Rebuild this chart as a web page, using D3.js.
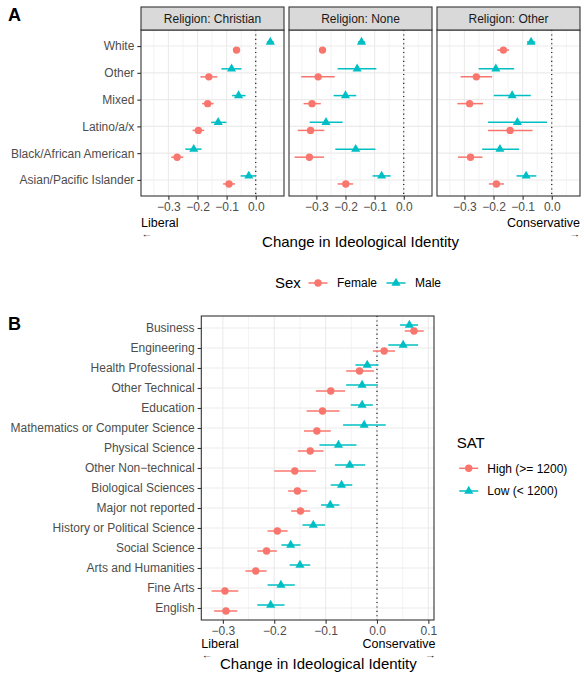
<!DOCTYPE html>
<html>
<head>
<meta charset="utf-8">
<script src="https://cdn.jsdelivr.net/npm/d3@7.9.0/dist/d3.min.js"></script>
<style>
  body { margin: 0; background: #fff; }
  svg { font-family: "Liberation Sans", Arial, Helvetica, sans-serif; }
</style>
</head>
<body>
<div id="chart"></div>
<script>
// ---- data: [estimate, lower, upper] ----
const races = ["White", "Other", "Mixed", "Latino/a/x", "Black/African American", "Asian/Pacific Islander"];
const religions = ["Religion: Christian", "Religion: None", "Religion: Other"];
const sexes = ["Female", "Male"];

const christianFemale = [[-0.066,-0.076,-0.056],[-0.161,-0.190,-0.132],[-0.165,-0.184,-0.145],[-0.197,-0.217,-0.177],[-0.270,-0.290,-0.249],[-0.092,-0.112,-0.071]];
const christianMale   = [[0.050,0.038,0.062],[-0.083,-0.118,-0.049],[-0.059,-0.081,-0.035],[-0.129,-0.153,-0.101],[-0.213,-0.242,-0.186],[-0.024,-0.052,0.001]];
const noneFemale      = [[-0.279,-0.291,-0.267],[-0.294,-0.352,-0.237],[-0.315,-0.344,-0.285],[-0.320,-0.364,-0.273],[-0.324,-0.375,-0.274],[-0.199,-0.227,-0.174]];
const noneMale        = [[-0.145,-0.157,-0.133],[-0.160,-0.227,-0.094],[-0.200,-0.241,-0.163],[-0.267,-0.323,-0.210],[-0.165,-0.235,-0.097],[-0.076,-0.107,-0.045]];
const otherFemale     = [[-0.166,-0.187,-0.147],[-0.259,-0.313,-0.205],[-0.282,-0.324,-0.236],[-0.143,-0.219,-0.066],[-0.279,-0.322,-0.238],[-0.190,-0.216,-0.164]];
const otherMale       = [[-0.071,-0.085,-0.057],[-0.192,-0.251,-0.129],[-0.136,-0.199,-0.072],[-0.118,-0.219,-0.016],[-0.178,-0.239,-0.112],[-0.088,-0.121,-0.053]];

const majors = ["Business", "Engineering", "Health Professional", "Other Technical", "Education",
  "Mathematics or Computer Science", "Physical Science", "Other Non\u2212technical", "Biological Sciences",
  "Major not reported", "History or Political Science", "Social Science", "Arts and Humanities", "Fine Arts", "English"];
const satGroups = ["High (>= 1200)", "Low (< 1200)"];
const satHigh = [[0.072,0.054,0.091],[0.014,-0.008,0.035],[-0.034,-0.060,-0.006],[-0.090,-0.119,-0.062],[-0.106,-0.137,-0.073],
  [-0.117,-0.142,-0.090],[-0.130,-0.154,-0.104],[-0.160,-0.200,-0.119],[-0.155,-0.173,-0.136],[-0.149,-0.167,-0.130],
  [-0.194,-0.213,-0.174],[-0.215,-0.233,-0.195],[-0.236,-0.256,-0.215],[-0.296,-0.322,-0.270],[-0.294,-0.317,-0.272]];
const satLow = [[0.063,0.045,0.080],[0.051,0.022,0.080],[-0.019,-0.042,0.003],[-0.029,-0.060,0.002],[-0.029,-0.051,-0.008],
  [-0.025,-0.066,0.017],[-0.075,-0.112,-0.040],[-0.053,-0.082,-0.023],[-0.069,-0.090,-0.048],[-0.091,-0.109,-0.073],
  [-0.124,-0.145,-0.101],[-0.168,-0.186,-0.149],[-0.150,-0.170,-0.130],[-0.187,-0.213,-0.160],[-0.207,-0.233,-0.180]];

const ticksA = [-0.3, -0.2, -0.1, 0.0];
const minorA = [-0.35, -0.25, -0.15, -0.05, 0.05];
const ticksB = [-0.3, -0.2, -0.1, 0.0, 0.1];
const minorB = [-0.25, -0.15, -0.05, 0.05];

const colors = ["#F8766D", "#00BFC4"];
const fmt = d => d3.format(".1f")(d).replace("-", "\u2212");

const W = 584, H = 680;
const svg = d3.select("#chart").append("svg")
  .attr("width", W)
  .attr("height", H);

// draw one panel with two dodged series
function drawPanel(x, y, cats, seriesList, ticks, minor, top, bottom, withYAxis) {
  const g = svg.append("g");
  const [x0, x1] = x.range();
  const step = y.step();

  g.selectAll(".minor").data(minor.filter(d => x(d) > x0 && x(d) < x1)).join("line")
    .attr("x1", d => x(d)).attr("x2", d => x(d))
    .attr("y1", top).attr("y2", bottom)
    .attr("stroke", "#ebebeb").attr("stroke-width", 0.6);
  g.selectAll(".major").data(ticks).join("line")
    .attr("x1", d => x(d)).attr("x2", d => x(d))
    .attr("y1", top).attr("y2", bottom)
    .attr("stroke", "#ebebeb").attr("stroke-width", 1.1);
  g.selectAll(".hgrid").data(cats).join("line")
    .attr("x1", x0).attr("x2", x1)
    .attr("y1", d => y(d)).attr("y2", d => y(d))
    .attr("stroke", "#ebebeb").attr("stroke-width", 1.1);

  // zero reference
  g.append("line")
    .attr("x1", x(0)).attr("x2", x(0))
    .attr("y1", top).attr("y2", bottom)
    .attr("stroke", "#000").attr("stroke-width", 1.1)
    .attr("stroke-dasharray", "1.1,3.3");

  seriesList.forEach((s, si) => {
    const off = si === 0 ? 0.15 * step : -0.15 * step;
    const rows = s.map((v, i) => ({ cat: cats[i], est: v[0], lo: v[1], hi: v[2] }));
    g.selectAll(null).data(rows).join("line")
      .attr("x1", d => x(d.lo)).attr("x2", d => x(d.hi))
      .attr("y1", d => y(d.cat) + off).attr("y2", d => y(d.cat) + off)
      .attr("stroke", colors[si]).attr("stroke-width", 1.5);
    if (si === 0) {
      g.selectAll(null).data(rows).join("circle")
        .attr("cx", d => x(d.est)).attr("cy", d => y(d.cat) + off)
        .attr("r", 3.7).attr("fill", colors[si]);
    } else {
      g.selectAll(null).data(rows).join("path")
        .attr("d", d3.symbol(d3.symbolTriangle, 36))
        .attr("transform", d => `translate(${x(d.est)},${y(d.cat) + off})`)
        .attr("fill", colors[si]);
    }
  });

  g.append("rect")
    .attr("x", x0).attr("y", top)
    .attr("width", x1 - x0).attr("height", bottom - top)
    .attr("fill", "none").attr("stroke", "#333").attr("stroke-width", 1.1);

  // x axis
  const xa = g.append("g").attr("transform", `translate(0,${bottom})`)
    .call(d3.axisBottom(x).tickValues(ticks).tickSize(3.7).tickPadding(3).tickFormat(fmt));
  xa.select(".domain").remove();
  xa.selectAll("line").attr("stroke", "#333").attr("stroke-width", 1.1);
  xa.selectAll("text").attr("fill", "#4d4d4d").style("font-size", "12px")
    .style("font-family", "Liberation Sans, Arial, sans-serif");

  if (withYAxis) {
    const ya = g.append("g").attr("transform", `translate(${x0},0)`)
      .call(d3.axisLeft(y).tickSize(3.7).tickPadding(3));
    ya.select(".domain").remove();
    ya.selectAll("line").attr("stroke", "#333").attr("stroke-width", 1.1);
    ya.selectAll("text").attr("fill", "#4d4d4d").style("font-size", "12px")
      .style("font-family", "Liberation Sans, Arial, sans-serif");
  }
}

function directionLabels(left, right, yText, yArrow, yTitle) {
  const t = svg.append("g").attr("fill", "#000").style("font-size", "12.5px");
  t.append("text").attr("x", left).attr("y", yText).attr("dy", "0.35em").text("Liberal");
  t.append("text").attr("x", left).attr("y", yArrow).attr("dy", "0.35em")
    .style("font-size", "8px").attr("textLength", 11).attr("lengthAdjust", "spacingAndGlyphs").text("\u2190");
  t.append("text").attr("x", right).attr("y", yText).attr("dy", "0.35em").attr("text-anchor", "end").text("Conservative");
  t.append("text").attr("x", right - 11).attr("y", yArrow).attr("dy", "0.35em")
    .style("font-size", "8px").attr("textLength", 11).attr("lengthAdjust", "spacingAndGlyphs").text("\u2192");
  svg.append("text").attr("x", (left + right) / 2).attr("y", yTitle).attr("dy", "0.35em")
    .attr("text-anchor", "middle").style("font-size", "15px").attr("fill", "#000")
    .text("Change in Ideological Identity");
}

function legendKey(x, y, si) {
  svg.append("line").attr("x1", x - 9.5).attr("x2", x + 9.5).attr("y1", y).attr("y2", y)
    .attr("stroke", colors[si]).attr("stroke-width", 1.5);
  if (si === 0) {
    svg.append("circle").attr("cx", x).attr("cy", y).attr("r", 3.7).attr("fill", colors[si]);
  } else {
    svg.append("path").attr("d", d3.symbol(d3.symbolTriangle, 36))
      .attr("transform", `translate(${x},${y})`).attr("fill", colors[si]);
  }
}

// ---- panel A ----
const topA = 30, bottomA = 196;
const panelW = 143, gap = 5, leftA = 141;
const yA = d3.scalePoint().domain(races).range([topA, bottomA]).padding(0.6);
const seriesA = [[christianFemale, christianMale], [noneFemale, noneMale], [otherFemale, otherMale]];

religions.forEach((rel, i) => {
  const px = leftA + i * (panelW + gap);
  const x = d3.scaleLinear().domain([-0.394, 0.097]).range([px, px + panelW]);
  drawPanel(x, yA, races, seriesA[i], ticksA, minorA, topA, bottomA, i === 0);
  svg.append("rect").attr("x", px).attr("y", 7).attr("width", panelW).attr("height", topA - 7)
    .attr("fill", "#d9d9d9").attr("stroke", "#333").attr("stroke-width", 1.1);
  svg.append("text").attr("x", px + panelW / 2).attr("y", (7 + topA) / 2).attr("dy", "0.35em")
    .attr("text-anchor", "middle").style("font-size", "12px").attr("fill", "#1a1a1a").text(rel);
});
directionLabels(leftA, leftA + 3 * panelW + 2 * gap, 223, 234.5, 242);

// legend A
svg.append("text").attr("x", 275).attr("y", 283).attr("dy", "0.35em").style("font-size", "15px").text("Sex");
sexes.forEach((s, i) => {
  const kx = [318, 396][i];
  legendKey(kx, 283, i);
  svg.append("text").attr("x", kx + 19).attr("y", 283).attr("dy", "0.35em").style("font-size", "12px").text(s);
});

// ---- panel B ----
const topB = 316, bottomB = 620;
const xB = d3.scaleLinear().domain([-0.342, 0.111]).range([201.3, 434]);
const yB = d3.scalePoint().domain(majors).range([topB, bottomB]).padding(0.6);
drawPanel(xB, yB, majors, [satHigh, satLow], ticksB, minorB, topB, bottomB, true);
directionLabels(201.3, 435.5, 643.5, 655, 664);

// legend B
svg.append("text").attr("x", 456.7).attr("y", 443).attr("dy", "0.35em").style("font-size", "15px").text("SAT");
satGroups.forEach((s, i) => {
  const ky = [468.3, 491][i];
  legendKey(468.7, ky, i);
  svg.append("text").attr("x", 487.3).attr("y", ky).attr("dy", "0.35em").style("font-size", "12px").text(s);
});

// panel letters
svg.append("text").attr("x", 8).attr("y", 15).attr("dy", "0.35em").style("font-size", "18px").style("font-weight", "bold").text("A");
svg.append("text").attr("x", 8).attr("y", 324).attr("dy", "0.35em").style("font-size", "18px").style("font-weight", "bold").text("B");
</script>
</body>
</html>
